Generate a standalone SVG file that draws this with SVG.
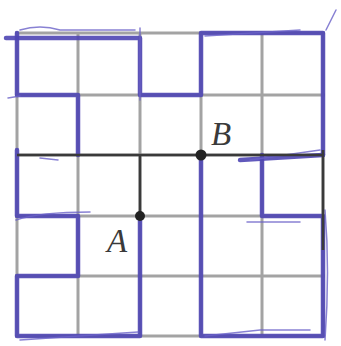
<svg xmlns="http://www.w3.org/2000/svg" width="341" height="346" viewBox="0 0 341 346">
<style>
.grid{stroke:#a3a3a3;stroke-width:3;fill:none}
.path{stroke:#3a3a3a;stroke-width:2.6;fill:none}
.wall{stroke:#4f46b4;stroke-width:4.5;fill:none;stroke-linecap:round;stroke-linejoin:round;opacity:0.9}
.wall2{stroke:#6a62c8;stroke-width:1.5;fill:none;stroke-linecap:round;opacity:0.8}
.lbl{font-family:"Liberation Serif",serif;font-style:italic;font-size:33px;fill:#3a3a3a}
</style>
<rect width="341" height="346" fill="#ffffff"/>
<g id="grid">
<path class="grid" d="M17 33V336M78 33V336M140 33V336M201 33V336M262 33V336M323 33V336"/>
<path class="grid" d="M15 33H325M15 95H325M15 155H325M15 216H325M15 276H325M15 336H325"/>
</g>
<g id="walls">
<path class="wall" d="M6 38H140V95H201V33H323V155"/>
<path class="wall2" d="M20 30Q40 24 60 30H135M205 36L300 30M140 28V100M326 30L336 10"/>
<path class="wall" d="M17 33V95H78V155"/>
<path class="wall" d="M17 150V216H78V276H17V336H140V216"/>
<path class="wall2" d="M19 155H60M40 158L58 160M8 98L20 96M16 220Q40 212 90 212M20 340L138 332"/>
<path class="wall" d="M201 160V336H323V216H262V155"/>
<path class="wall" d="M240 160L323 155"/>
<path class="wall2" d="M205 336L260 330H310M250 160L320 150M325 210Q330 270 325 340M247 222H300"/>
</g>
<g id="connectors">
<path class="path" d="M17 155H323"/>
<path class="path" d="M140 216V155"/>
<path class="path" d="M323 150V250"/>
</g>
<g id="nodeA">
<circle cx="140" cy="216" r="5" fill="#222"/>
<text class="lbl" x="107" y="252">A</text>
</g>
<g id="nodeB">
<circle cx="201" cy="155" r="5.5" fill="#222"/>
<text class="lbl" x="211" y="145">B</text>
</g>
</svg>
